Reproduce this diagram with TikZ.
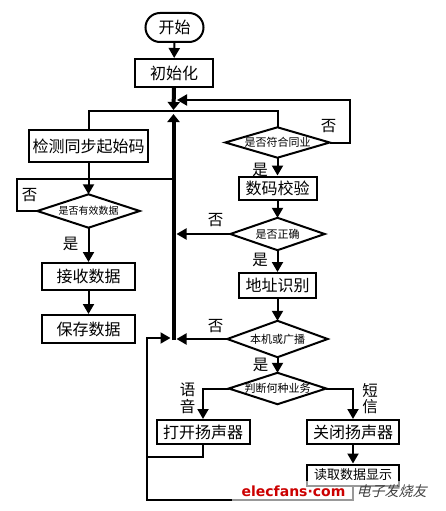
\documentclass[tikz,border=0pt]{standalone}
\usepackage{fontspec}
\newfontfamily\cjk{Noto Sans CJK SC}
\newfontfamily\wm{DejaVu Sans}
\usetikzlibrary{arrows.meta}
\begin{document}
\begin{tikzpicture}[x=1pt,y=-1pt,
  proc/.style={draw,line width=2pt,inner sep=0pt,font=\cjk\fontsize{16}{18}\selectfont},
  smallproc/.style={proc,font=\cjk\fontsize{13}{15}\selectfont},
  dia/.style={inner sep=0pt,font=\cjk\fontsize{11}{12}\selectfont},
  lbl/.style={inner sep=0pt,font=\cjk\fontsize{15.5}{16}\selectfont},
  flow/.style={line width=2pt},
  arr/.style={flow,-{Triangle[length=10pt,width=11pt]}},
  thickarr/.style={line width=4pt,-{Triangle[length=8pt,width=12pt]}}
]
\useasboundingbox (0,0) rectangle (445,511);
\fill[white] (0,0) rectangle (445,511);

% nodes
\node[proc,rounded corners=14.5pt,minimum width=58pt,minimum height=29pt] (start) at (174.5,27.5) {开始};
\node[proc,minimum width=78pt,minimum height=28pt] (init) at (174,73) {初始化};
\node[proc,minimum width=119pt,minimum height=32pt] (detect) at (88.5,146) {检测同步起始码};
\node[dia,minimum width=102pt,minimum height=33pt,font=\cjk\fontsize{10}{11}\selectfont] (d1) at (88.5,211) {是否有效数据};
\node[proc,minimum width=93pt,minimum height=27pt] (recv) at (88.5,276.5) {接收数据};
\node[proc,minimum width=93pt,minimum height=28pt] (save) at (88.5,329) {保存数据};

\node[dia,minimum width=104pt,minimum height=30pt] (d2) at (277.5,142.5) {是否符合同业};
\node[proc,minimum width=78pt,minimum height=23pt] (check) at (277.5,188) {数码校验};
\node[dia,minimum width=94pt,minimum height=32pt] (d3) at (277.5,234) {是否正确};
\node[proc,minimum width=77pt,minimum height=25pt] (addr) at (277.5,285.5) {地址识别};
\node[dia,minimum width=100pt,minimum height=36pt] (d4) at (277.5,339) {本机或广播};
\node[dia,minimum width=97pt,minimum height=31pt] (d5) at (277.5,388.5) {判断何种业务};
\node[proc,minimum width=93pt,minimum height=24pt] (spk1) at (203,432) {打开扬声器};
\node[proc,minimum width=92pt,minimum height=24pt] (spk2) at (353,432) {关闭扬声器};
\node[smallproc,minimum width=92pt,minimum height=21pt] (disp) at (353,475) {读取数据显示};

\foreach \d in {d1,d2,d3,d4,d5}
  \draw[line width=2pt] (\d.north) -- (\d.east) -- (\d.south) -- (\d.west) -- cycle;

% coordinates
\coordinate (J) at (173.5,111);
\coordinate (jdown) at (173.5,110);
\coordinate (mainbot) at (173.5,340);
\coordinate (maintop) at (173.5,114);
\coordinate (mainR) at (176.5,300);
\coordinate (L1) at (17,179);
\coordinate (R1) at (350,100);
\coordinate (Jin) at (177,100);
\coordinate (B1) at (147,457);
\coordinate (B2) at (147,500);
\coordinate (Lin) at (170.5,338);

% connectors
\draw[arr] (start) -- (init);
\draw[thickarr] (init.south) -- (jdown);
\draw[thickarr] (mainbot) -- (maintop);
\draw[flow] (detect.north) -- (detect.north |- J) -- (J -| d2.north) -- (d2.north);
\draw[arr] (detect.south) -- (d1.north);
\draw[flow] (d1.west) -| (L1) -- (L1 -| J);
\draw[arr] (d1.south) -- (recv.north);
\draw[arr] (recv) -- (save);
\draw[arr] (d2.east) -| (R1) -- (Jin);
\draw[arr] (d2.south) -- (check.north);
\draw[arr] (check) -- (d3.north);
\draw[arr] (d3.west) -- (d3.west -| mainR);
\draw[arr] (d3.south) -- (addr.north);
\draw[arr] (addr) -- (d4.north);
\draw[arr] (d4.west) -- (d4.west -| mainR);
\draw[arr] (d4.south) -- (d5.north);
\draw[arr] (d5.west) -| (spk1.north);
\draw[arr] (d5.east) -| (spk2.north);
\draw[arr] (spk2) -- (disp);
\draw[flow] (spk1.south) |- (B1);
\draw[arr] (disp.south) |- (B2) |- (Lin);

% labels
\node[lbl] (n1) at (29.5,195) {否};
\node[lbl] (y1) at (70.5,244) {是};
\node[lbl] (n2) at (328.5,126) {否};
\node[lbl] (y2) at (260,170) {是};
\node[lbl] (n3) at (215.5,220) {否};
\node[lbl] (y3) at (260,259.5) {是};
\node[lbl] (n4) at (215.5,326.5) {否};
\node[lbl] (y4) at (260.5,365) {是};
\node[lbl] (v1) at (187.5,390) {语};
\node[lbl] (v2) at (187.5,406.5) {音};
\node[lbl] (s1) at (370,390) {短};
\node[lbl] (s2) at (370,407) {信};

% watermark
\fill[white,opacity=0.6] (232,481) rectangle (445,503);
\node[inner sep=0pt,text=red!80!black,font=\wm\bfseries\fontsize{14}{14}\selectfont] (wm1) at (293.5,491) {elecfans·com};
\node[inner sep=0pt,text=black!75,font=\cjk\fontsize{14}{14}\selectfont,xslant=0.25] (wm2) at (393,491) {电子发烧友};
\end{tikzpicture}
\end{document}
